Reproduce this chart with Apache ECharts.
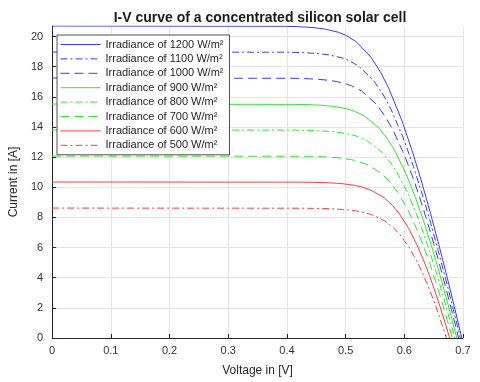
<!DOCTYPE html>
<html>
<head>
<meta charset="utf-8">
<script src="https://cdn.jsdelivr.net/npm/echarts@6/dist/echarts.min.js"></script>
<style>
  html, body { margin: 0; padding: 0; background: #fff; }
  #chart { width: 480px; height: 382px; }
</style>
</head>
<body>
<div id="chart"></div>
<script>
// voltage [V] / current [A], one pair of arrays per irradiance
var v1200 = [0, 0.3957, 0.4166, 0.4444, 0.4656, 0.4873, 0.5005, 0.5177, 0.5432, 0.5602, 0.5735, 0.5953, 0.6134, 0.6296, 0.6446, 0.6587, 0.6723, 0.6853, 0.698]
var i1200 = [20.7, 20.68, 20.66, 20.60, 20.49, 20.29, 20.08, 19.67, 18.63, 17.60, 16.56, 14.49, 12.42, 10.35, 8.28, 6.21, 4.14, 2.07, 0]
var v1100 = [0, 0.4010, 0.4219, 0.4496, 0.4708, 0.4924, 0.5055, 0.5226, 0.5477, 0.5643, 0.5773, 0.5982, 0.6155, 0.6309, 0.6452, 0.6585, 0.6712, 0.6835, 0.6954]
var i1100 = [18.97, 18.96, 18.94, 18.88, 18.79, 18.60, 18.41, 18.03, 17.08, 16.13, 15.18, 13.28, 11.39, 9.49, 7.59, 5.69, 3.80, 1.90, 0]
var v1000 = [0, 0.4060, 0.4269, 0.4546, 0.4757, 0.4973, 0.5103, 0.5272, 0.5519, 0.5681, 0.5807, 0.6008, 0.6174, 0.6320, 0.6454, 0.6580, 0.6699, 0.6814, 0.6925]
var i1000 = [17.25, 17.23, 17.22, 17.16, 17.08, 16.91, 16.73, 16.39, 15.53, 14.66, 13.80, 12.08, 10.35, 8.63, 6.90, 5.18, 3.45, 1.73, 0]
var v900 = [0, 0.4109, 0.4317, 0.4595, 0.4805, 0.5020, 0.5149, 0.5317, 0.5560, 0.5718, 0.5840, 0.6033, 0.6191, 0.6329, 0.6455, 0.6573, 0.6684, 0.6791, 0.6894]
var i900 = [15.52, 15.50, 15.49, 15.44, 15.36, 15.21, 15.05, 14.74, 13.97, 13.19, 12.42, 10.86, 9.31, 7.76, 6.21, 4.66, 3.10, 1.55, 0]
var v800 = [0, 0.4152, 0.4360, 0.4637, 0.4847, 0.5062, 0.5190, 0.5356, 0.5595, 0.5749, 0.5867, 0.6052, 0.6202, 0.6332, 0.6451, 0.6560, 0.6664, 0.6762, 0.6858]
var i800 = [13.8, 13.79, 13.77, 13.73, 13.66, 13.52, 13.39, 13.11, 12.42, 11.73, 11.04, 9.66, 8.28, 6.90, 5.52, 4.14, 2.76, 1.38, 0]
var v700 = [0, 0.4192, 0.4400, 0.4677, 0.4887, 0.5100, 0.5228, 0.5392, 0.5627, 0.5777, 0.5891, 0.6068, 0.6210, 0.6332, 0.6443, 0.6544, 0.6640, 0.6730, 0.6818]
var i700 = [12.07, 12.06, 12.05, 12.01, 11.95, 11.83, 11.71, 11.47, 10.86, 10.26, 9.66, 8.45, 7.24, 6.04, 4.83, 3.62, 2.41, 1.21, 0]
var v600 = [0, 0.4224, 0.4433, 0.4709, 0.4919, 0.5132, 0.5258, 0.5421, 0.5653, 0.5798, 0.5908, 0.6078, 0.6211, 0.6326, 0.6429, 0.6522, 0.6610, 0.6692, 0.6772]
var i600 = [10.35, 10.34, 10.33, 10.30, 10.25, 10.14, 10.04, 9.83, 9.32, 8.80, 8.28, 7.25, 6.21, 5.18, 4.14, 3.11, 2.07, 1.04, 0]
var v500 = [0, 0.4248, 0.4457, 0.4733, 0.4942, 0.5154, 0.5280, 0.5441, 0.5669, 0.5811, 0.5916, 0.6078, 0.6204, 0.6310, 0.6405, 0.6491, 0.6571, 0.6645, 0.6717]
var i500 = [8.62, 8.61, 8.60, 8.58, 8.53, 8.45, 8.36, 8.19, 7.76, 7.33, 6.90, 6.03, 5.17, 4.31, 3.45, 2.59, 1.72, 0.86, 0]

var names = ['Irradiance of 1200 W/m²', 'Irradiance of 1100 W/m²', 'Irradiance of 1000 W/m²',
  'Irradiance of 900 W/m²', 'Irradiance of 800 W/m²', 'Irradiance of 700 W/m²',
  'Irradiance of 600 W/m²', 'Irradiance of 500 W/m²']

var blue = '#3b3bff', green = '#2fe82f', red = '#ff3b3b'
var dashDot = [7, 3, 2, 3]
var dashed = [9, 5]
var colors = [blue, blue, blue, green, green, green, red, red]
var types = ['solid', dashDot, dashed, 'solid', dashDot, dashed, 'solid', dashDot]

function pairs(v, i) {
  return v.map(function (x, k) { return [x, i[k]] })
}

function curve(k, v, i) {
  return {
    name: names[k],
    type: 'line',
    data: pairs(v, i),
    showSymbol: false,
    symbol: 'none',
    lineStyle: { color: colors[k], width: 1, type: types[k] },
    itemStyle: { color: colors[k] }
  }
}

var font = 'Liberation Sans, Arial, Helvetica, sans-serif'
var myChart = echarts.init(document.getElementById('chart'))

var option = {
  animation: false,
  textStyle: { fontFamily: font },
  title: {
    text: 'I-V curve of a concentrated silicon solar cell',
    left: 255,
    textAlign: 'center',
    top: 6,
    textStyle: { fontSize: 14, fontWeight: 'bold', color: '#1a1a1a', fontFamily: font }
  },
  legend: {
    orient: 'vertical',
    left: 57,
    top: 35,
    itemWidth: 40,
    itemHeight: 11,
    itemGap: 3.4,
    padding: [4, 6, 4, 3],
    backgroundColor: '#fff',
    borderColor: '#262626',
    borderWidth: 0.8,
    borderRadius: 0,
    data: names.map(function (n, k) {
      return {
        name: n,
        itemStyle: { opacity: 0 },
        lineStyle: { color: colors[k], width: 1, type: types[k], opacity: 1 }
      }
    }),
    textStyle: { fontSize: 11, color: '#262626', fontFamily: font }
  },
  grid: { left: 48, right: 17, top: 26, bottom: 41.5 },
  xAxis: {
    type: 'value',
    min: 0,
    max: 0.7,
    interval: 0.1,
    name: 'Voltage in [V]',
    nameLocation: 'middle',
    nameGap: 27,
    nameTextStyle: { fontSize: 12, color: '#262626' },
    axisLine: { onZero: false, lineStyle: { color: '#262626', width: 1 } },
    axisTick: { inside: true, length: 4, lineStyle: { color: '#262626' } },
    axisLabel: { fontSize: 11, color: '#333', margin: 7 },
    splitLine: { show: true, lineStyle: { color: '#e5e5e5', width: 1 } }
  },
  yAxis: {
    type: 'value',
    min: 0,
    max: 20.7,
    interval: 2,
    name: 'Current in [A]',
    nameLocation: 'middle',
    nameGap: 26,
    nameTextStyle: { fontSize: 12, color: '#262626' },
    axisLine: { show: true, onZero: false, lineStyle: { color: '#262626', width: 1 } },
    axisTick: { show: true, inside: true, length: 4, lineStyle: { color: '#262626' } },
    axisLabel: { fontSize: 11, color: '#333', margin: 9, showMaxLabel: false },
    splitLine: { show: true, showMaxLine: false, lineStyle: { color: '#e5e5e5', width: 1 } }
  },
  series: [
    curve(0, v1200, i1200),
    curve(1, v1100, i1100),
    curve(2, v1000, i1000),
    curve(3, v900, i900),
    curve(4, v800, i800),
    curve(5, v700, i700),
    curve(6, v600, i600),
    curve(7, v500, i500)
  ]
}
myChart.setOption(option)
</script>
</body>
</html>
